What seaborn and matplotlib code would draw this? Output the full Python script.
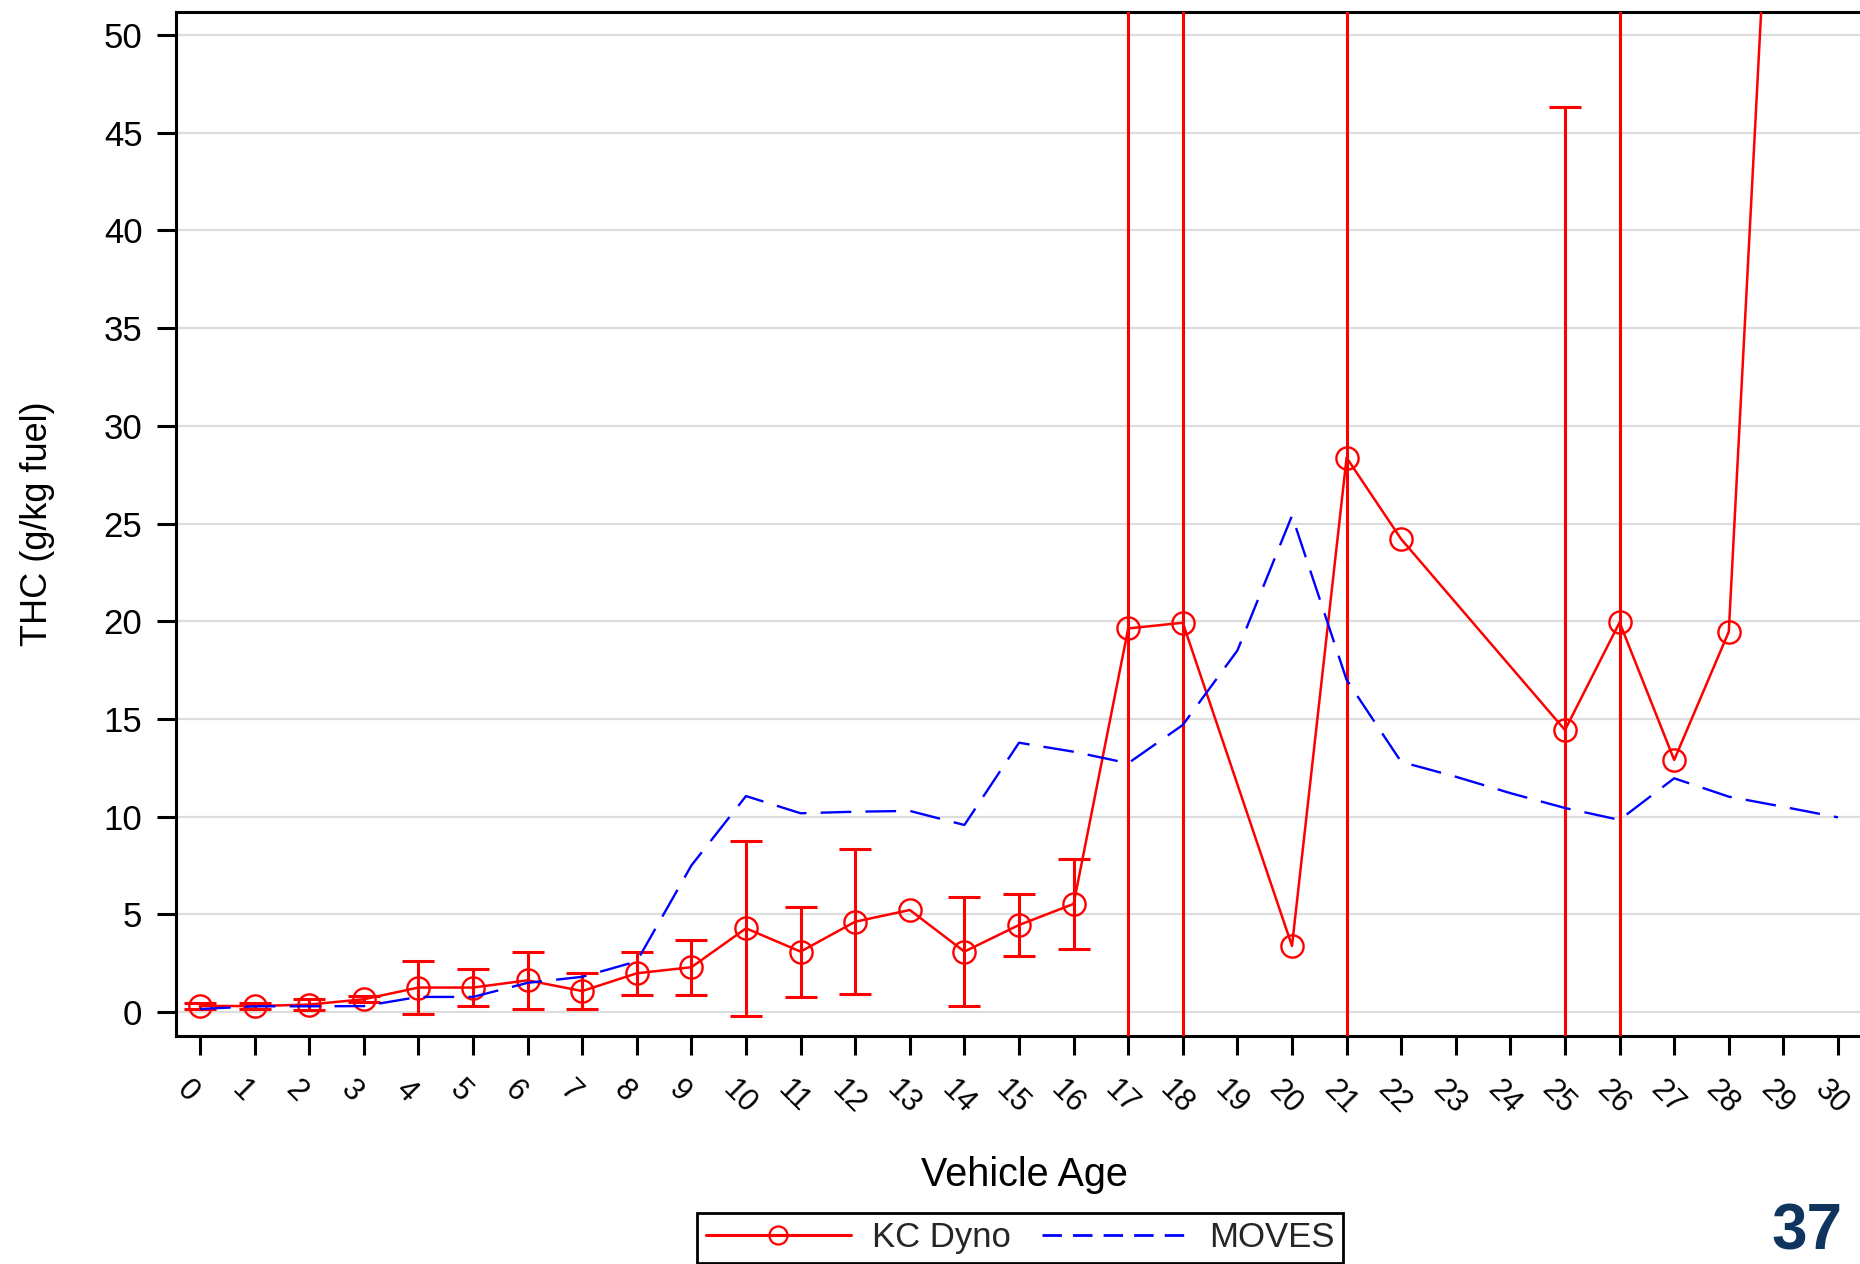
import matplotlib
matplotlib.use("Agg")
import matplotlib.pyplot as plt
import matplotlib.transforms as mtransforms
from matplotlib.lines import Line2D
import pandas as pd
import seaborn as sns

# KC Dyno: mean THC (g/kg fuel) by vehicle age and 95% CI half-widths
kc_age = [0, 1, 2, 3, 4, 5, 6, 7, 8, 9, 10, 11, 12, 13, 14, 15, 16, 17, 18,
          20, 21, 22, 25, 26, 27, 28, 29]
kc_thc = [0.31, 0.30, 0.38, 0.65, 1.25, 1.25, 1.62, 1.07, 1.98, 2.29, 4.28,
          3.09, 4.62, 5.22, 3.09, 4.45, 5.53, 19.63, 19.92, 3.38, 28.37, 24.2,
          14.43, 19.94, 12.9, 19.46, 73.0]
kc_ci = [0.15, 0.15, 0.3, 0.15, 1.35, 0.95, 1.45, 0.9, 1.1, 1.4, 4.47, 2.3,
         3.7, 0.0, 2.8, 1.6, 2.3, 60.0, 55.0, 0.0, 50.0, 0.0, 31.9, 45.0,
         0.0, 0.0, 0.0]

# MOVES model estimate by vehicle age
moves_age = list(range(0, 31))
moves_thc = [0.15, 0.29, 0.29, 0.30, 0.77, 0.77, 1.49, 1.80, 2.59, 7.5, 11.05,
             10.17, 10.25, 10.29, 9.57, 13.78, 13.32, 12.73, 14.69, 18.5, 25.4,
             17.0, 12.8, 12.04, 11.2, 10.44, 9.83, 11.96, 11.02, 10.5, 9.96]

x_ticks = list(range(0, 31))
y_ticks = list(range(0, 51, 5))
series_names = ["KC Dyno", "MOVES"]

sns.set_style("white")
plt.rcParams["font.family"] = ["Liberation Sans", "DejaVu Sans"]

W, H = 1860, 1264
fig = plt.figure(figsize=(W / 100, H / 100), dpi=100)
ax_left, ax_right, ax_top, ax_bottom = 176, 1862, 12, 1036
ax = fig.add_axes([ax_left / W, (H - ax_bottom) / H,
                   (ax_right - ax_left) / W, (ax_bottom - ax_top) / H])

kc = pd.DataFrame({"age": kc_age, "thc": kc_thc, "ci": kc_ci})
mv = pd.DataFrame({"age": moves_age, "thc": moves_thc})

# KC Dyno line with open circle markers
sns.lineplot(data=kc, x="age", y="thc", ax=ax, color="#FF0000", lw=1.8,
             marker="o", markersize=16, markerfacecolor="none",
             markeredgecolor="#FF0000", markeredgewidth=1.7, zorder=3)

# confidence limits (only where an interval exists)
ci = kc[kc["ci"] > 0]
ax.errorbar(ci["age"], ci["thc"], yerr=ci["ci"], fmt="none", ecolor="#FF0000",
            elinewidth=2.2, capsize=11.5, capthick=2.2, zorder=3)

# MOVES dashed line
sns.lineplot(data=mv, x="age", y="thc", ax=ax, color="#0000FF", lw=1.7,
             dashes=False, zorder=4)
ax.lines[-1].set_dashes((13, 6))

ax.set_xlim(-0.44, 30.44)
ax.set_ylim(-1.23, 51.18)
ax.set_xticks(x_ticks)
ax.set_xticklabels([str(t) for t in x_ticks], rotation=-45,
                   rotation_mode="anchor", ha="left", va="top", fontsize=22)
ax.set_yticks(y_ticks)
ax.set_yticklabels([str(t) for t in y_ticks], fontsize=25)

ax.tick_params(axis="both", which="major", length=13.7, width=2.2,
               color="black", labelcolor="black", direction="out")
ax.tick_params(axis="y", pad=10.5, left=True)
ax.tick_params(axis="x", pad=14, bottom=True)

# nudge the slanted age labels a little to the left of their ticks
shift = mtransforms.ScaledTranslation(-8 / 100, 0, fig.dpi_scale_trans)
for lab in ax.get_xticklabels():
    lab.set_transform(lab.get_transform() + shift)

ax.yaxis.grid(True, color="#DDDDDD", lw=1.6)
ax.xaxis.grid(False)
ax.set_axisbelow(True)
for s in ax.spines.values():
    s.set_color("black")
    s.set_linewidth(2.2)

ax.set_xlabel("Vehicle Age", fontsize=28.5, color="black")
ax.set_ylabel("THC (g/kg fuel)", fontsize=26, color="black")
ax.xaxis.set_label_coords(0.503, -0.117)
ax.yaxis.set_label_coords(-0.0718, 0.5)

handles = [
    Line2D([], [], color="#FF0000", lw=2.2, marker="o", markersize=13,
           markerfacecolor="none", markeredgecolor="#FF0000",
           markeredgewidth=1.6),
    Line2D([], [], color="#0000FF", lw=2.0, dashes=(7, 4)),
]
leg = fig.legend(handles, series_names, loc="lower center",
                 bbox_to_anchor=(1020 / W, 1 / H), ncol=2, fontsize=25,
                 frameon=True, fancybox=False, edgecolor="black",
                 framealpha=1, handlelength=4.2, handletextpad=0.6,
                 columnspacing=0.9, borderpad=0.25, borderaxespad=0)
leg.get_frame().set_linewidth(2.0)

fig.text(1842 / W, 1 / H, "37", ha="right", va="bottom", fontsize=46,
         fontweight="bold", color="#0F355F")

fig.savefig("out.png", dpi=100)
